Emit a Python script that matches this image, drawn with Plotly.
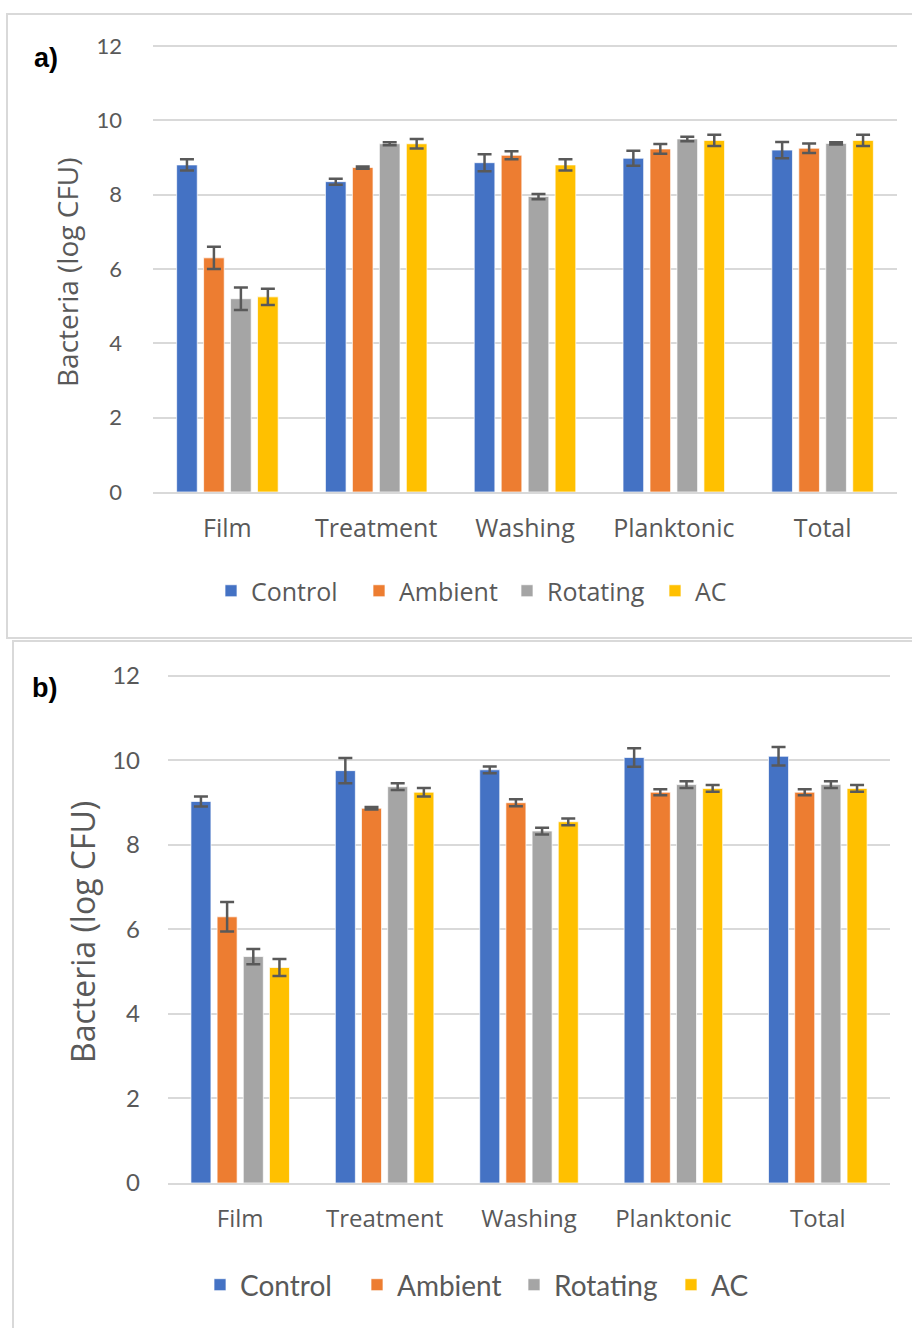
import plotly.graph_objects as go

W, H = 912, 1328

categories = ["Film", "Treatment", "Washing", "Planktonic", "Total"]
series_names = ["Control", "Ambient", "Rotating", "AC"]
colors = ["#4472C4", "#ED7D31", "#A5A5A5", "#FFC000"]
y_ticks = [0, 2, 4, 6, 8, 10, 12]

# Panel a) means and standard errors (log CFU)
a_control = [8.80, 8.35, 8.86, 8.98, 9.20]
a_ambient = [6.30, 8.73, 9.06, 9.23, 9.25]
a_rotating = [5.20, 9.37, 7.95, 9.50, 9.38]
a_ac = [5.25, 9.37, 8.80, 9.46, 9.46]
a_control_err = [0.15, 0.08, 0.23, 0.20, 0.22]
a_ambient_err = [0.30, 0.03, 0.11, 0.13, 0.13]
a_rotating_err = [0.30, 0.04, 0.07, 0.06, 0.03]
a_ac_err = [0.22, 0.13, 0.15, 0.15, 0.15]

# Panel b) means and standard errors (log CFU)
b_control = [9.03, 9.76, 9.78, 10.07, 10.10]
b_ambient = [6.30, 8.87, 9.00, 9.25, 9.25]
b_rotating = [5.36, 9.38, 8.33, 9.43, 9.43]
b_ac = [5.10, 9.25, 8.55, 9.34, 9.34]
b_control_err = [0.12, 0.30, 0.08, 0.22, 0.22]
b_ambient_err = [0.35, 0.03, 0.08, 0.07, 0.07]
b_rotating_err = [0.18, 0.08, 0.08, 0.08, 0.08]
b_ac_err = [0.20, 0.10, 0.08, 0.08, 0.08]


def px(x):
    return x / W


def py(y):
    return 1 - y / H


TEXT = "#595959"
GRID = "#d9d9d9"
Y_TOP = 12.05  # a hair above 12 so the top gridline is kept

# pixel rows of the value 0 and the value 12 in each panel
A_ZERO, A_TWELVE = 492, 46
B_ZERO, B_TWELVE = 1183, 676
a_top = A_ZERO - Y_TOP * (A_ZERO - A_TWELVE) / 12
b_top = B_ZERO - Y_TOP * (B_ZERO - B_TWELVE) / 12

fig = go.Figure()

panels = [
    ("x", "y", "legend", [a_control, a_ambient, a_rotating, a_ac],
     [a_control_err, a_ambient_err, a_rotating_err, a_ac_err]),
    ("x2", "y2", "legend2", [b_control, b_ambient, b_rotating, b_ac],
     [b_control_err, b_ambient_err, b_rotating_err, b_ac_err]),
]

for xa, ya, leg, vals, errs in panels:
    for name, color, v, e in zip(series_names, colors, vals, errs):
        fig.add_trace(go.Bar(
            x=categories, y=v, name=name, xaxis=xa, yaxis=ya, legend=leg,
            marker=dict(color=color, line=dict(color="rgba(255,255,255,0.7)", width=1)),
            error_y=dict(type="data", array=e, color=TEXT, thickness=2.5, width=7),
        ))

axis_common = dict(showgrid=False, ticks="", showline=True, linecolor=GRID,
                   linewidth=2, fixedrange=True, automargin=False)
yaxis_common = dict(range=[0, Y_TOP], tickvals=y_ticks, showgrid=True, gridcolor=GRID,
                    gridwidth=1.5, zeroline=False, showline=False, ticks="",
                    automargin=False, fixedrange=True)

fig.update_layout(
    width=W, height=H,
    margin=dict(l=0, r=0, t=0, b=0, autoexpand=False),
    paper_bgcolor="white", plot_bgcolor="white",
    barmode="group", bargap=0.275, bargroupgap=0.235,
    showlegend=True,
    xaxis=dict(domain=[px(153), px(897)], anchor="y",
               tickfont=dict(family="Open Sans", size=25, color=TEXT),
               ticklabelstandoff=13, **axis_common),
    yaxis=dict(domain=[py(A_ZERO), py(a_top)], anchor="x",
               tickfont=dict(family="Lato", size=22, color=TEXT),
               ticklabelstandoff=30, **yaxis_common),
    xaxis2=dict(domain=[px(168), px(890)], anchor="y2",
                tickfont=dict(family="Open Sans", size=24, color=TEXT),
                ticklabelstandoff=13, **axis_common),
    yaxis2=dict(domain=[py(B_ZERO), py(b_top)], anchor="x2",
                tickfont=dict(family="Lato", size=24, color=TEXT),
                ticklabelstandoff=27, **yaxis_common),
    legend=dict(orientation="h", x=px(211), y=py(591), xanchor="left",
                yanchor="middle", font=dict(family="Open Sans", size=25, color=TEXT),
                itemwidth=30, entrywidth=103, bgcolor="rgba(0,0,0,0)"),
    legend2=dict(orientation="h", x=px(200), y=py(1285), xanchor="left",
                 yanchor="middle", font=dict(family="Lato", size=28, color=TEXT),
                 itemwidth=30, entrywidth=112, bgcolor="rgba(0,0,0,0)"),
)

# Panel frames
fig.add_shape(type="rect", xref="paper", yref="paper",
              x0=px(7), x1=px(930), y0=py(638), y1=py(14),
              line=dict(color=GRID, width=2), layer="below")
fig.add_shape(type="rect", xref="paper", yref="paper",
              x0=px(13), x1=px(930), y0=py(1350), y1=py(641),
              line=dict(color=GRID, width=2), layer="below")

# Panel letters and y-axis titles
for label, cx, cy in [("<b>a)</b>", 46, 58), ("<b>b)</b>", 44, 688)]:
    fig.add_annotation(text=label, x=px(cx), y=py(cy), xref="paper", yref="paper",
                       showarrow=False, xanchor="center", yanchor="middle",
                       font=dict(family="Liberation Sans", size=27, color="black"))
fig.add_annotation(text="Bacteria (log CFU)", x=px(67), y=py(272), xref="paper",
                   yref="paper", showarrow=False, textangle=-90,
                   xanchor="center", yanchor="middle",
                   font=dict(family="Open Sans", size=28, color=TEXT))
fig.add_annotation(text="Bacteria (log CFU)", x=px(83), y=py(932), xref="paper",
                   yref="paper", showarrow=False, textangle=-90,
                   xanchor="center", yanchor="middle",
                   font=dict(family="Open Sans", size=32, color=TEXT))

fig.write_html("out.html")
